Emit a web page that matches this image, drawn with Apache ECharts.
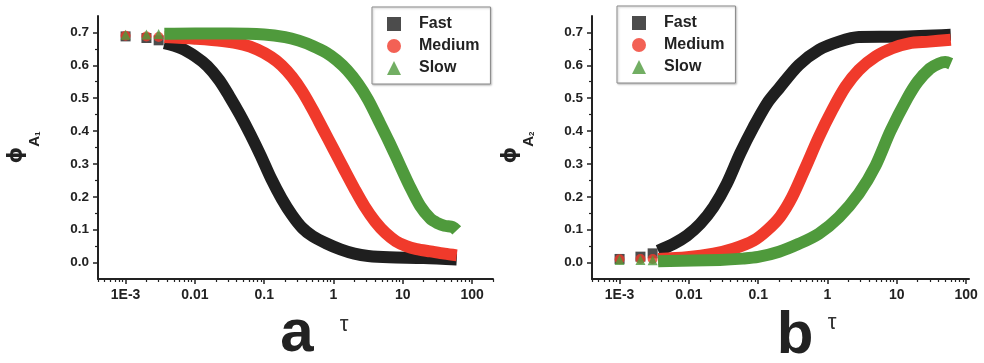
<!DOCTYPE html>
<html>
<head>
<meta charset="utf-8">
<script src="https://cdn.jsdelivr.net/npm/echarts@6/dist/echarts.min.js"></script>
<style>
html,body{margin:0;padding:0;background:#fff;}
#chart{width:984px;height:363px;}
</style>
</head>
<body>
<div id="chart"></div>
<script>
// ---------- data (tau, phi) ----------
const seriesNames = ['Fast', 'Medium', 'Slow'];

// panel a : phi_A1
const aFastPts   = [[0.001,0.688],[0.002,0.683],[0.003,0.676]];
const aMediumPts = [[0.001,0.690],[0.002,0.688],[0.003,0.686]];
const aSlowPts   = [[0.001,0.693],[0.002,0.694],[0.003,0.695]];
const aFast   = [[0.00363,0.667],[0.00631,0.652],[0.01,0.628],[0.0151,0.598],[0.0224,0.555],[0.0316,0.505],[0.0447,0.45],[0.0631,0.39],[0.0891,0.325],[0.126,0.255],[0.178,0.195],[0.251,0.145],[0.355,0.105],[0.501,0.08],[0.794,0.058],[1.26,0.04],[2.0,0.027],[3.16,0.02],[6.31,0.016],[20,0.014],[60,0.009]];
const aMedium = [[0.00363,0.686],[0.01,0.681],[0.0251,0.674],[0.0501,0.663],[0.0794,0.648],[0.126,0.625],[0.178,0.6],[0.251,0.565],[0.355,0.52],[0.501,0.465],[0.708,0.405],[1.0,0.345],[1.41,0.285],[2.0,0.225],[2.82,0.17],[3.98,0.125],[5.62,0.09],[7.94,0.065],[11.2,0.05],[15.8,0.041],[25.1,0.034],[39.8,0.027],[60,0.022]];
const aSlow   = [[0.00363,0.696],[0.01,0.697],[0.0316,0.697],[0.1,0.694],[0.2,0.686],[0.316,0.675],[0.501,0.659],[0.794,0.638],[1.12,0.615],[1.58,0.585],[2.24,0.545],[3.16,0.495],[4.47,0.432],[6.31,0.368],[8.91,0.3],[12.6,0.232],[17.8,0.172],[25.1,0.133],[31.6,0.12],[39.8,0.112],[52.5,0.108],[60,0.098]];

// panel b : phi_A2
const bFastPts   = [[0.001,0.011],[0.002,0.018],[0.003,0.028]];
const bMediumPts = [[0.001,0.010],[0.002,0.011],[0.003,0.011]];
const bSlowPts   = [[0.001,0.008],[0.002,0.008],[0.003,0.007]];
const bFast   = [[0.0036,0.036],[0.006,0.057],[0.0094,0.082],[0.0146,0.118],[0.0227,0.169],[0.0353,0.24],[0.055,0.332],[0.086,0.413],[0.134,0.484],[0.2,0.53],[0.386,0.601],[0.75,0.647],[1.46,0.672],[2.84,0.686],[10.7,0.687],[60,0.693]];
const bMedium = [[0.0036,0.011],[0.0094,0.016],[0.0227,0.027],[0.044,0.042],[0.086,0.067],[0.134,0.098],[0.208,0.14],[0.31,0.2],[0.483,0.29],[0.75,0.382],[1.17,0.464],[1.82,0.535],[2.84,0.586],[4.94,0.627],[8.59,0.652],[15,0.667],[29,0.672],[60,0.678]];
const bSlow   = [[0.0036,0.004],[0.028,0.008],[0.06,0.012],[0.1,0.017],[0.2,0.033],[0.386,0.057],[0.75,0.088],[1.46,0.138],[2.84,0.21],[4.94,0.295],[8.1,0.4],[14.2,0.5],[20,0.55],[30,0.59],[40,0.605],[50,0.61],[60,0.605]];

// ---------- ticks ----------
const xTicks = [0.001, 0.01, 0.1, 1, 10, 100];
const xTickLabels = ['1E-3', '0.01', '0.1', '1', '10', '100'];
const xMinorTicks = [0.0004,0.0005,0.0006,0.0007,0.0008,0.0009,
  0.002,0.003,0.004,0.005,0.006,0.007,0.008,0.009,
  0.02,0.03,0.04,0.05,0.06,0.07,0.08,0.09,
  0.2,0.3,0.4,0.5,0.6,0.7,0.8,0.9,
  2,3,4,5,6,7,8,9,
  20,30,40,50,60,70,80,90,200];
const yTicks = [0, 0.1, 0.2, 0.3, 0.4, 0.5, 0.6, 0.7];
const yMinorTicks = [0.05, 0.15, 0.25, 0.35, 0.45, 0.55, 0.65];

const colors = ['#1f1f1f', '#f03a2b', '#4f9a3c'];
const symbols = ['rect', 'circle', 'triangle'];
const FONT = '"Liberation Sans", Arial, sans-serif';
const AX = '#222';

const panels = [
  {grid:{left:98, top:16, width:395, height:263}, xmax:200, sub:'1',
   pts:[aFastPts, aMediumPts, aSlowPts], lines:[aFast, aMedium, aSlow]},
  {grid:{left:592, top:16, width:377, height:263}, xmax:110, sub:'2',
   pts:[bFastPts, bMediumPts, bSlowPts], lines:[bFast, bMedium, bSlow]}
];

const grid = [], xAxis = [], yAxis = [], series = [];
panels.forEach((p, i) => {
  grid.push(p.grid);
  // main x axis
  xAxis.push({
    type:'log', logBase:10, gridIndex:i, min:0.0004, max:p.xmax, position:'bottom',
    axisLine:{show:true, onZero:false, lineStyle:{color:AX, width:2}},
    axisTick:{show:true, customValues:xTicks, length:5, lineStyle:{color:AX, width:1.5}},
    axisLabel:{show:true, customValues:xTicks, margin:9,
      formatter:(v)=>{ for (let k=0;k<xTicks.length;k++){ if (Math.abs(Math.log10(v)-Math.log10(xTicks[k]))<1e-6) return xTickLabels[k]; } return ''; },
      color:AX, fontWeight:'bold', fontSize:14, fontFamily:FONT},
    splitLine:{show:false}, minorTick:{show:false}
  });
  // minor x ticks
  xAxis.push({
    type:'log', logBase:10, gridIndex:i, min:0.0004, max:p.xmax, position:'bottom',
    axisLine:{show:false, onZero:false},
    axisTick:{show:true, customValues:xMinorTicks.filter(v=>v<=p.xmax), length:3, lineStyle:{color:AX, width:1.2}},
    axisLabel:{show:false}, splitLine:{show:false}
  });
  // main y axis
  yAxis.push({
    type:'value', gridIndex:i, min:-0.05, max:0.75, position:'left',
    name:'{p|ϕ}{a|A}{s|' + p.sub + '}', nameLocation:'middle', nameRotate:90, nameGap:56,
    nameTextStyle:{color:AX, rich:{
      p:{fontSize:21, fontWeight:'bold', fontFamily:'"DejaVu Sans", sans-serif', color:AX, verticalAlign:'top', lineHeight:36},
      a:{fontSize:15, fontWeight:'bold', fontFamily:FONT, color:AX, verticalAlign:'bottom', lineHeight:34},
      s:{fontSize:8, fontWeight:'bold', fontFamily:FONT, color:AX, verticalAlign:'bottom', lineHeight:30}
    }},
    axisLine:{show:true, onZero:false, lineStyle:{color:AX, width:2}},
    axisTick:{show:true, customValues:yTicks, length:5, lineStyle:{color:AX, width:1.5}},
    axisLabel:{show:true, customValues:yTicks, margin:9, formatter:(v)=>v.toFixed(1),
      color:AX, fontWeight:'bold', fontSize:13.5, fontFamily:FONT},
    splitLine:{show:false}
  });
  // minor y ticks
  yAxis.push({
    type:'value', gridIndex:i, min:-0.05, max:0.75, position:'left',
    axisLine:{show:false, onZero:false},
    axisTick:{show:true, customValues:yMinorTicks, length:3, lineStyle:{color:AX, width:1.2}},
    axisLabel:{show:false}, splitLine:{show:false}
  });
  const xi = i*2, yi = i*2;
  // discrete early points
  p.pts.forEach((d, k) => {
    series.push({
      type:'scatter', name:seriesNames[k], xAxisIndex:xi, yAxisIndex:yi,
      data:d, symbol:symbols[k], symbolSize:10, itemStyle:{color:colors[k]},
      z:2+k, silent:true
    });
  });
  // dense bands
  p.lines.forEach((d, k) => {
    series.push({
      type:'line', name:seriesNames[k], xAxisIndex:xi, yAxisIndex:yi,
      data:d, showSymbol:false, smooth:0.3,
      lineStyle:{color:colors[k], width:12, cap:'butt', join:'round'},
      itemStyle:{color:colors[k]}, z:2+k, silent:true, animation:false
    });
  });
});

const legendData = seriesNames.map((n,k)=>({name:n, icon:symbols[k], itemStyle:{color:colors[k]}}));
const legendBase = {
  orient:'vertical', itemWidth:14, itemHeight:14, itemGap:6,
  padding:[9, 11, 8, 15], borderColor:'#8a8a8a', borderWidth:1, backgroundColor:'#fff',
  shadowColor:'rgba(0,0,0,0.25)', shadowBlur:2, shadowOffsetX:1, shadowOffsetY:1,
  textStyle:{fontWeight:'bold', fontSize:16, color:AX, fontFamily:FONT, padding:[0,0,0,13]},
  selectedMode:false, data:legendData
};

const option = {
  animation:false,
  backgroundColor:'#fff',
  grid, xAxis, yAxis, series,
  legend:[
    Object.assign({}, legendBase, {left:372, top:7}),
    Object.assign({}, legendBase, {left:617, top:6})
  ],
  graphic:[
    {type:'text', x:297, y:334, style:{text:'a', font:'bold 60px "Liberation Sans", Arial, sans-serif', fill:'#222', align:'center', verticalAlign:'middle'}},
    {type:'text', x:344, y:325, style:{text:'τ', font:'22px "Liberation Sans", Arial, sans-serif', fill:'#333', align:'center', verticalAlign:'middle'}},
    {type:'text', x:795, y:336, style:{text:'b', font:'bold 60px "Liberation Sans", Arial, sans-serif', fill:'#222', align:'center', verticalAlign:'middle'}},
    {type:'text', x:832, y:323, style:{text:'τ', font:'22px "Liberation Sans", Arial, sans-serif', fill:'#333', align:'center', verticalAlign:'middle'}}
  ]
};

const chart = echarts.init(document.getElementById('chart'), null, {renderer:'canvas'});
chart.setOption(option);
</script>
</body>
</html>
